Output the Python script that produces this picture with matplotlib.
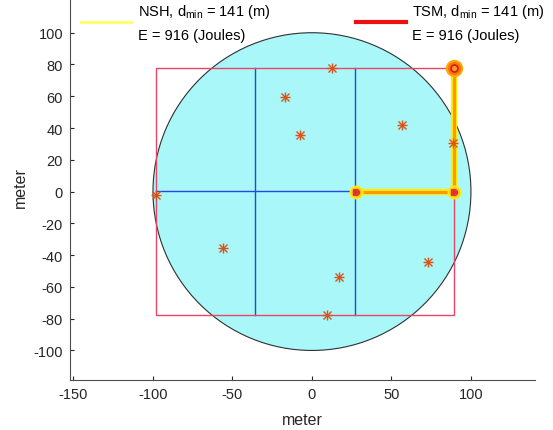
import matplotlib.pyplot as plt
from matplotlib.patches import Circle, Rectangle
from matplotlib.lines import Line2D

plt.rcParams['font.family'] = ['Liberation Sans', 'DejaVu Sans']
plt.rcParams['mathtext.default'] = 'regular'
plt.rcParams['axes.unicode_minus'] = False

# sensor positions (meter)
sensor_x = [12.3, -16.9, -7.3, 56.7, 88.8, -98.1, -56.1, 16.9, 73.1, 9.4, 89.4]
sensor_y = [78.0, 59.7, 35.8, 42.2, 30.3, -2.2, -35.5, -53.6, -44.1, -77.4, 78.0]

# tour of the mobile sink
path_x = [27.9, 89.4, 89.4]
path_y = [0.0, 0.0, 78.0]

field_radius = 100
n_cols, n_rows = 3, 2

labels = ['NSH, d$_{min}$ = 141 (m)\nE = 916 (Joules)',
          'TSM, d$_{min}$ = 141 (m)\nE = 916 (Joules)']

fig = plt.figure(figsize=(5.53, 4.31), dpi=100)
ax = fig.add_axes([70 / 553, 50 / 431, 465 / 553, 387 / 431])

ax.add_patch(Circle((0, 0), field_radius, facecolor='#a9f7f8', edgecolor='#303030', lw=0.8, zorder=1))

# bounding box and grid
xmin, xmax = min(sensor_x), max(sensor_x)
ymin, ymax = min(sensor_y), max(sensor_y)
for i in range(1, n_cols):
    gx = xmin + (xmax - xmin) * i / n_cols
    ax.plot([gx, gx], [ymin, ymax], color='#2448e8', lw=1.0, zorder=2)
for j in range(1, n_rows):
    gy = ymin + (ymax - ymin) * j / n_rows
    ax.plot([xmin, xmax], [gy, gy], color='#2448e8', lw=1.0, zorder=2)
ax.add_patch(Rectangle((xmin, ymin), xmax - xmin, ymax - ymin, fill=False,
                       edgecolor='#e8456a', lw=1.0, zorder=2))

# paths
ax.plot(path_x, path_y, color='#ffee00', lw=4.5, solid_capstyle='butt', zorder=5)
ax.plot(path_x, path_y, color='#ff3000', lw=2.2, alpha=0.45, solid_capstyle='butt', zorder=6)
ax.plot(path_x, path_y, 'o', ms=9, mfc='#ffcc22', mec='#ffee00', zorder=7)

# asterisk markers like matlab '*'
ax.plot(sensor_x, sensor_y, '+', color='#d95319', ms=7, mew=1.0, zorder=8)
ax.plot(sensor_x, sensor_y, 'x', color='#d95319', ms=5.5, mew=1.0, zorder=8)

ax.plot(path_x[:2], path_y[:2], '>', ms=5, color='#e03030', zorder=9)
ax.plot(path_x[:2], path_y[:2], 'o', ms=4, mfc='none', mec='#e03030', mew=1.2, zorder=9)
ax.plot(path_x[-1], path_y[-1], 'o', ms=11, mfc='#ff7010', mec='#ffaa00', mew=1.5, zorder=9)
ax.plot(path_x[-1], path_y[-1], 'o', ms=5, mfc='#ff9a30', mec='#d02000', mew=1.2, zorder=10)

ax.set_xlim(-152.2, 140.3)
ax.set_ylim(-118.6, 125)
ax.set_xticks(range(-150, 101, 50))
ax.set_yticks(range(-100, 101, 20))
ax.tick_params(direction='in', length=3, labelsize=10.5, colors='#262626', width=0.8, pad=5)
for s in ['top', 'right']:
    ax.spines[s].set_visible(False)
for s in ['left', 'bottom']:
    ax.spines[s].set_color('#4d4d4d')
ax.set_xlabel('meter', fontsize=11.5, color='#262626', labelpad=8)
ax.set_ylabel('meter', fontsize=11.5, color='#262626', labelpad=4)

handles = [Line2D([], [], color='#ffff66', lw=2), Line2D([], [], color='#ee1010', lw=3)]
leg = ax.legend(handles, labels, ncol=2, loc='upper left', bbox_to_anchor=(80 / 553, 1 - 2 / 431),
                bbox_transform=fig.transFigure, frameon=False, fontsize=10.5,
                handlelength=3.4, handletextpad=0.45, columnspacing=5.9,
                borderpad=0.1, borderaxespad=0)
for t in leg.get_texts():
    t.set_linespacing(1.65)

fig.savefig('out.png', dpi=100)
